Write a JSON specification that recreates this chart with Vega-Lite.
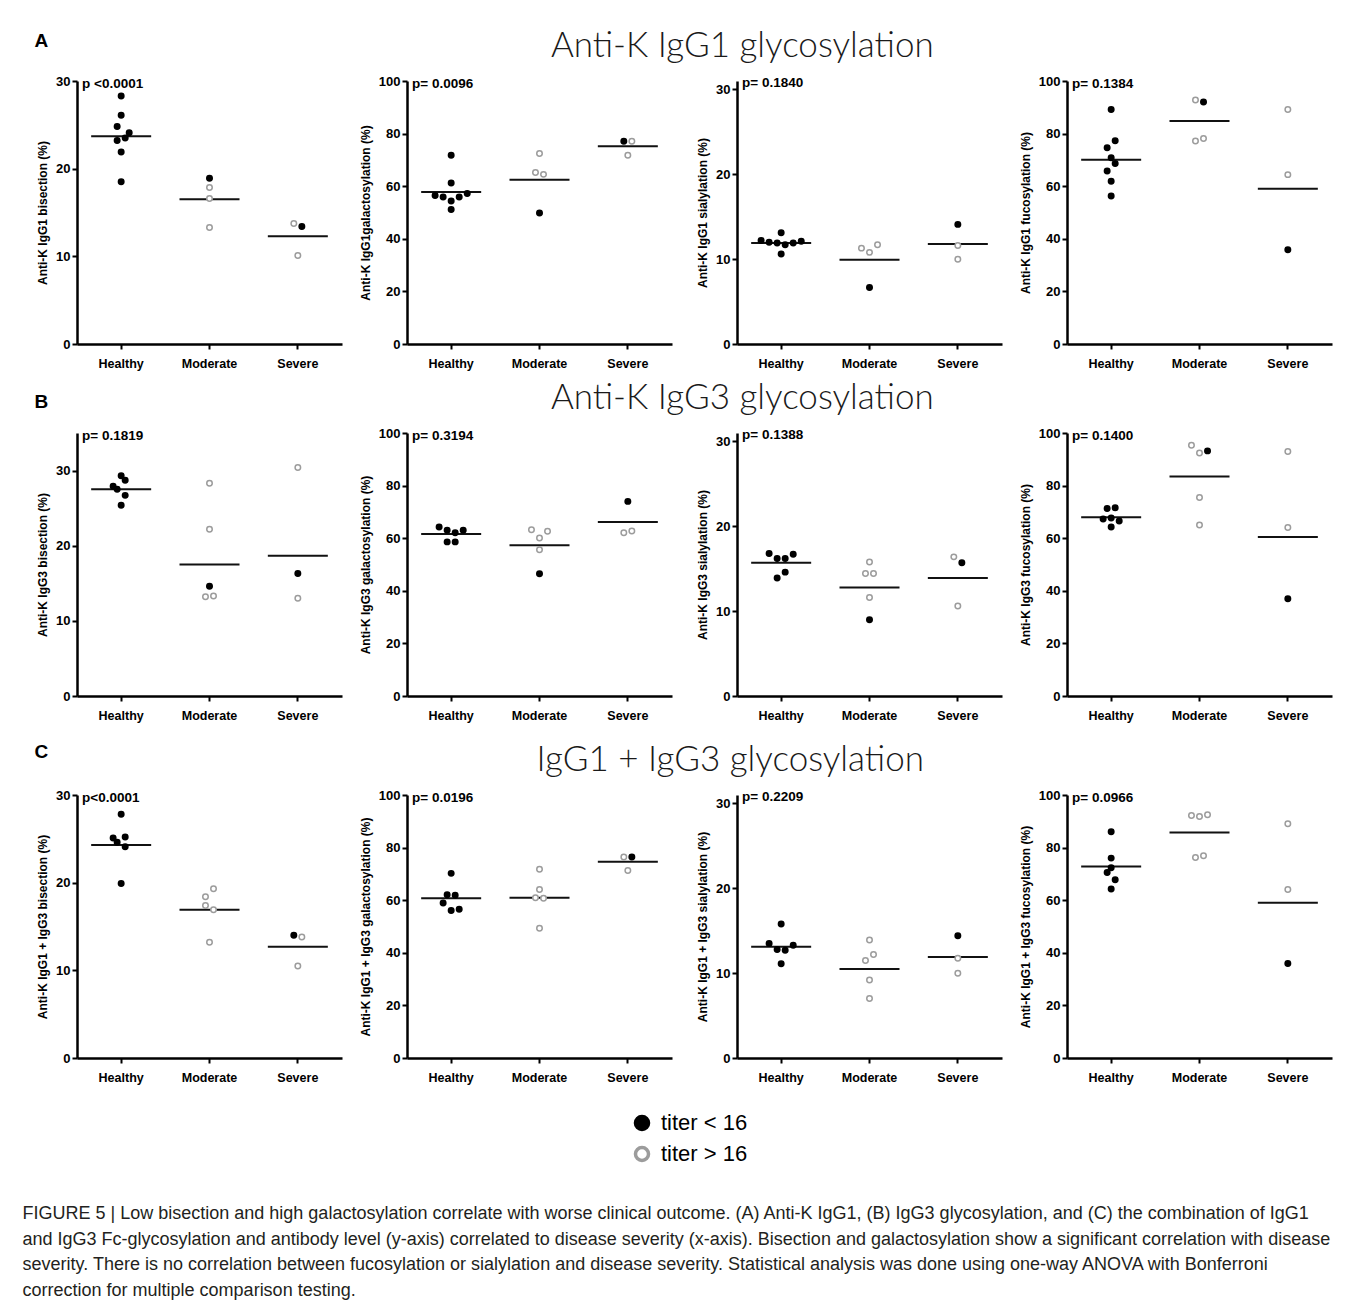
{
  "$schema": "https://vega.github.io/schema/vega-lite/v6.json",
  "padding": {"left": 22, "top": 29, "right": 8, "bottom": 4},
  "background": "white",
  "datasets": {
    "pts": [
      {"r":"A","m":"bis","g":"Healthy","v":28.3,"t":"titer < 16","s":0},
      {"r":"A","m":"bis","g":"Healthy","v":26.1,"t":"titer < 16","s":0},
      {"r":"A","m":"bis","g":"Healthy","v":24.8,"t":"titer < 16","s":-1},
      {"r":"A","m":"bis","g":"Healthy","v":24.1,"t":"titer < 16","s":2},
      {"r":"A","m":"bis","g":"Healthy","v":23.5,"t":"titer < 16","s":1},
      {"r":"A","m":"bis","g":"Healthy","v":23.2,"t":"titer < 16","s":-1},
      {"r":"A","m":"bis","g":"Healthy","v":21.9,"t":"titer < 16","s":0},
      {"r":"A","m":"bis","g":"Healthy","v":18.5,"t":"titer < 16","s":0},
      {"r":"A","m":"bis","g":"Moderate","v":18.9,"t":"titer < 16","s":0},
      {"r":"A","m":"bis","g":"Moderate","v":17.85,"t":"titer > 16","s":0},
      {"r":"A","m":"bis","g":"Moderate","v":16.6,"t":"titer > 16","s":0},
      {"r":"A","m":"bis","g":"Moderate","v":13.3,"t":"titer > 16","s":0},
      {"r":"A","m":"bis","g":"Severe","v":13.75,"t":"titer > 16","s":-1},
      {"r":"A","m":"bis","g":"Severe","v":13.4,"t":"titer < 16","s":1},
      {"r":"A","m":"bis","g":"Severe","v":10.1,"t":"titer > 16","s":0},

      {"r":"A","m":"gal","g":"Healthy","v":71.8,"t":"titer < 16","s":0},
      {"r":"A","m":"gal","g":"Healthy","v":61.2,"t":"titer < 16","s":0},
      {"r":"A","m":"gal","g":"Healthy","v":56.5,"t":"titer < 16","s":-4},
      {"r":"A","m":"gal","g":"Healthy","v":55.9,"t":"titer < 16","s":-2},
      {"r":"A","m":"gal","g":"Healthy","v":54.4,"t":"titer < 16","s":0},
      {"r":"A","m":"gal","g":"Healthy","v":55.9,"t":"titer < 16","s":2},
      {"r":"A","m":"gal","g":"Healthy","v":57.2,"t":"titer < 16","s":4},
      {"r":"A","m":"gal","g":"Healthy","v":51.1,"t":"titer < 16","s":0},
      {"r":"A","m":"gal","g":"Moderate","v":72.4,"t":"titer > 16","s":0},
      {"r":"A","m":"gal","g":"Moderate","v":65.2,"t":"titer > 16","s":-1},
      {"r":"A","m":"gal","g":"Moderate","v":64.5,"t":"titer > 16","s":1},
      {"r":"A","m":"gal","g":"Moderate","v":49.8,"t":"titer < 16","s":0},
      {"r":"A","m":"gal","g":"Severe","v":77.1,"t":"titer < 16","s":-1},
      {"r":"A","m":"gal","g":"Severe","v":77.1,"t":"titer > 16","s":1},
      {"r":"A","m":"gal","g":"Severe","v":71.8,"t":"titer > 16","s":0},

      {"r":"A","m":"sia","g":"Healthy","v":13.1,"t":"titer < 16","s":0},
      {"r":"A","m":"sia","g":"Healthy","v":12.2,"t":"titer < 16","s":-5},
      {"r":"A","m":"sia","g":"Healthy","v":12.0,"t":"titer < 16","s":-3},
      {"r":"A","m":"sia","g":"Healthy","v":11.9,"t":"titer < 16","s":-1},
      {"r":"A","m":"sia","g":"Healthy","v":11.7,"t":"titer < 16","s":1},
      {"r":"A","m":"sia","g":"Healthy","v":11.9,"t":"titer < 16","s":3},
      {"r":"A","m":"sia","g":"Healthy","v":12.1,"t":"titer < 16","s":5},
      {"r":"A","m":"sia","g":"Healthy","v":10.6,"t":"titer < 16","s":0},
      {"r":"A","m":"sia","g":"Moderate","v":11.3,"t":"titer > 16","s":-2},
      {"r":"A","m":"sia","g":"Moderate","v":10.8,"t":"titer > 16","s":0},
      {"r":"A","m":"sia","g":"Moderate","v":11.7,"t":"titer > 16","s":2},
      {"r":"A","m":"sia","g":"Moderate","v":6.65,"t":"titer < 16","s":0},
      {"r":"A","m":"sia","g":"Severe","v":14.1,"t":"titer < 16","s":0},
      {"r":"A","m":"sia","g":"Severe","v":11.6,"t":"titer > 16","s":0},
      {"r":"A","m":"sia","g":"Severe","v":10.0,"t":"titer > 16","s":0},

      {"r":"A","m":"fuc","g":"Healthy","v":89.2,"t":"titer < 16","s":0},
      {"r":"A","m":"fuc","g":"Healthy","v":77.3,"t":"titer < 16","s":1},
      {"r":"A","m":"fuc","g":"Healthy","v":74.6,"t":"titer < 16","s":-1},
      {"r":"A","m":"fuc","g":"Healthy","v":70.8,"t":"titer < 16","s":0},
      {"r":"A","m":"fuc","g":"Healthy","v":68.6,"t":"titer < 16","s":1},
      {"r":"A","m":"fuc","g":"Healthy","v":65.8,"t":"titer < 16","s":-1},
      {"r":"A","m":"fuc","g":"Healthy","v":61.9,"t":"titer < 16","s":0},
      {"r":"A","m":"fuc","g":"Healthy","v":56.3,"t":"titer < 16","s":0},
      {"r":"A","m":"fuc","g":"Moderate","v":92.8,"t":"titer > 16","s":-1},
      {"r":"A","m":"fuc","g":"Moderate","v":92.0,"t":"titer < 16","s":1},
      {"r":"A","m":"fuc","g":"Moderate","v":77.2,"t":"titer > 16","s":-1},
      {"r":"A","m":"fuc","g":"Moderate","v":78.1,"t":"titer > 16","s":1},
      {"r":"A","m":"fuc","g":"Severe","v":89.2,"t":"titer > 16","s":0},
      {"r":"A","m":"fuc","g":"Severe","v":64.4,"t":"titer > 16","s":0},
      {"r":"A","m":"fuc","g":"Severe","v":35.8,"t":"titer < 16","s":0},

      {"r":"B","m":"bis","g":"Healthy","v":29.3,"t":"titer < 16","s":0},
      {"r":"B","m":"bis","g":"Healthy","v":28.7,"t":"titer < 16","s":1},
      {"r":"B","m":"bis","g":"Healthy","v":27.9,"t":"titer < 16","s":-2},
      {"r":"B","m":"bis","g":"Healthy","v":27.5,"t":"titer < 16","s":-1},
      {"r":"B","m":"bis","g":"Healthy","v":26.7,"t":"titer < 16","s":1},
      {"r":"B","m":"bis","g":"Healthy","v":25.4,"t":"titer < 16","s":0},
      {"r":"B","m":"bis","g":"Moderate","v":28.3,"t":"titer > 16","s":0},
      {"r":"B","m":"bis","g":"Moderate","v":22.2,"t":"titer > 16","s":0},
      {"r":"B","m":"bis","g":"Moderate","v":14.6,"t":"titer < 16","s":0},
      {"r":"B","m":"bis","g":"Moderate","v":13.2,"t":"titer > 16","s":-1},
      {"r":"B","m":"bis","g":"Moderate","v":13.3,"t":"titer > 16","s":1},
      {"r":"B","m":"bis","g":"Severe","v":30.4,"t":"titer > 16","s":0},
      {"r":"B","m":"bis","g":"Severe","v":16.3,"t":"titer < 16","s":0},
      {"r":"B","m":"bis","g":"Severe","v":13.0,"t":"titer > 16","s":0},

      {"r":"B","m":"gal","g":"Healthy","v":64.3,"t":"titer < 16","s":-3},
      {"r":"B","m":"gal","g":"Healthy","v":63.0,"t":"titer < 16","s":-1},
      {"r":"B","m":"gal","g":"Healthy","v":62.1,"t":"titer < 16","s":1},
      {"r":"B","m":"gal","g":"Healthy","v":63.0,"t":"titer < 16","s":3},
      {"r":"B","m":"gal","g":"Healthy","v":58.6,"t":"titer < 16","s":-1},
      {"r":"B","m":"gal","g":"Healthy","v":58.6,"t":"titer < 16","s":1},
      {"r":"B","m":"gal","g":"Moderate","v":63.2,"t":"titer > 16","s":-2},
      {"r":"B","m":"gal","g":"Moderate","v":62.6,"t":"titer > 16","s":2},
      {"r":"B","m":"gal","g":"Moderate","v":60.1,"t":"titer > 16","s":0},
      {"r":"B","m":"gal","g":"Moderate","v":55.6,"t":"titer > 16","s":0},
      {"r":"B","m":"gal","g":"Moderate","v":46.5,"t":"titer < 16","s":0},
      {"r":"B","m":"gal","g":"Severe","v":74.0,"t":"titer < 16","s":0},
      {"r":"B","m":"gal","g":"Severe","v":62.1,"t":"titer > 16","s":-1},
      {"r":"B","m":"gal","g":"Severe","v":62.7,"t":"titer > 16","s":1},

      {"r":"B","m":"sia","g":"Healthy","v":16.8,"t":"titer < 16","s":-3},
      {"r":"B","m":"sia","g":"Healthy","v":16.2,"t":"titer < 16","s":-1},
      {"r":"B","m":"sia","g":"Healthy","v":16.2,"t":"titer < 16","s":1},
      {"r":"B","m":"sia","g":"Healthy","v":16.7,"t":"titer < 16","s":3},
      {"r":"B","m":"sia","g":"Healthy","v":14.6,"t":"titer < 16","s":1},
      {"r":"B","m":"sia","g":"Healthy","v":13.9,"t":"titer < 16","s":-1},
      {"r":"B","m":"sia","g":"Moderate","v":15.8,"t":"titer > 16","s":0},
      {"r":"B","m":"sia","g":"Moderate","v":14.45,"t":"titer > 16","s":-1},
      {"r":"B","m":"sia","g":"Moderate","v":14.45,"t":"titer > 16","s":1},
      {"r":"B","m":"sia","g":"Moderate","v":11.6,"t":"titer > 16","s":0},
      {"r":"B","m":"sia","g":"Moderate","v":9.0,"t":"titer < 16","s":0},
      {"r":"B","m":"sia","g":"Severe","v":16.4,"t":"titer > 16","s":-1},
      {"r":"B","m":"sia","g":"Severe","v":15.7,"t":"titer < 16","s":1},
      {"r":"B","m":"sia","g":"Severe","v":10.6,"t":"titer > 16","s":0},

      {"r":"B","m":"fuc","g":"Healthy","v":71.3,"t":"titer < 16","s":-1},
      {"r":"B","m":"fuc","g":"Healthy","v":71.6,"t":"titer < 16","s":1},
      {"r":"B","m":"fuc","g":"Healthy","v":67.3,"t":"titer < 16","s":-2},
      {"r":"B","m":"fuc","g":"Healthy","v":67.7,"t":"titer < 16","s":0},
      {"r":"B","m":"fuc","g":"Healthy","v":66.5,"t":"titer < 16","s":2},
      {"r":"B","m":"fuc","g":"Healthy","v":64.3,"t":"titer < 16","s":0},
      {"r":"B","m":"fuc","g":"Moderate","v":95.3,"t":"titer > 16","s":-2},
      {"r":"B","m":"fuc","g":"Moderate","v":92.4,"t":"titer > 16","s":0},
      {"r":"B","m":"fuc","g":"Moderate","v":93.2,"t":"titer < 16","s":2},
      {"r":"B","m":"fuc","g":"Moderate","v":75.5,"t":"titer > 16","s":0},
      {"r":"B","m":"fuc","g":"Moderate","v":65.0,"t":"titer > 16","s":0},
      {"r":"B","m":"fuc","g":"Severe","v":93.0,"t":"titer > 16","s":0},
      {"r":"B","m":"fuc","g":"Severe","v":64.1,"t":"titer > 16","s":0},
      {"r":"B","m":"fuc","g":"Severe","v":37.0,"t":"titer < 16","s":0},

      {"r":"C","m":"bis","g":"Healthy","v":27.8,"t":"titer < 16","s":0},
      {"r":"C","m":"bis","g":"Healthy","v":25.1,"t":"titer < 16","s":-2},
      {"r":"C","m":"bis","g":"Healthy","v":25.2,"t":"titer < 16","s":1},
      {"r":"C","m":"bis","g":"Healthy","v":24.6,"t":"titer < 16","s":-1},
      {"r":"C","m":"bis","g":"Healthy","v":24.1,"t":"titer < 16","s":1},
      {"r":"C","m":"bis","g":"Healthy","v":19.9,"t":"titer < 16","s":0},
      {"r":"C","m":"bis","g":"Moderate","v":19.3,"t":"titer > 16","s":1},
      {"r":"C","m":"bis","g":"Moderate","v":18.4,"t":"titer > 16","s":-1},
      {"r":"C","m":"bis","g":"Moderate","v":17.4,"t":"titer > 16","s":-1},
      {"r":"C","m":"bis","g":"Moderate","v":16.9,"t":"titer > 16","s":1},
      {"r":"C","m":"bis","g":"Moderate","v":13.2,"t":"titer > 16","s":0},
      {"r":"C","m":"bis","g":"Severe","v":14.0,"t":"titer < 16","s":-1},
      {"r":"C","m":"bis","g":"Severe","v":13.8,"t":"titer > 16","s":1},
      {"r":"C","m":"bis","g":"Severe","v":10.5,"t":"titer > 16","s":0},

      {"r":"C","m":"gal","g":"Healthy","v":70.2,"t":"titer < 16","s":0},
      {"r":"C","m":"gal","g":"Healthy","v":62.1,"t":"titer < 16","s":-1},
      {"r":"C","m":"gal","g":"Healthy","v":61.9,"t":"titer < 16","s":1},
      {"r":"C","m":"gal","g":"Healthy","v":58.9,"t":"titer < 16","s":-2},
      {"r":"C","m":"gal","g":"Healthy","v":56.1,"t":"titer < 16","s":0},
      {"r":"C","m":"gal","g":"Healthy","v":56.6,"t":"titer < 16","s":2},
      {"r":"C","m":"gal","g":"Moderate","v":71.8,"t":"titer > 16","s":0},
      {"r":"C","m":"gal","g":"Moderate","v":64.1,"t":"titer > 16","s":0},
      {"r":"C","m":"gal","g":"Moderate","v":60.9,"t":"titer > 16","s":-1},
      {"r":"C","m":"gal","g":"Moderate","v":60.7,"t":"titer > 16","s":1},
      {"r":"C","m":"gal","g":"Moderate","v":49.3,"t":"titer > 16","s":0},
      {"r":"C","m":"gal","g":"Severe","v":76.4,"t":"titer > 16","s":-1},
      {"r":"C","m":"gal","g":"Severe","v":76.4,"t":"titer < 16","s":1},
      {"r":"C","m":"gal","g":"Severe","v":71.3,"t":"titer > 16","s":0},

      {"r":"C","m":"sia","g":"Healthy","v":15.8,"t":"titer < 16","s":0},
      {"r":"C","m":"sia","g":"Healthy","v":13.5,"t":"titer < 16","s":-3},
      {"r":"C","m":"sia","g":"Healthy","v":12.8,"t":"titer < 16","s":-1},
      {"r":"C","m":"sia","g":"Healthy","v":12.7,"t":"titer < 16","s":1},
      {"r":"C","m":"sia","g":"Healthy","v":13.3,"t":"titer < 16","s":3},
      {"r":"C","m":"sia","g":"Healthy","v":11.1,"t":"titer < 16","s":0},
      {"r":"C","m":"sia","g":"Moderate","v":13.9,"t":"titer > 16","s":0},
      {"r":"C","m":"sia","g":"Moderate","v":12.2,"t":"titer > 16","s":1},
      {"r":"C","m":"sia","g":"Moderate","v":11.5,"t":"titer > 16","s":-1},
      {"r":"C","m":"sia","g":"Moderate","v":9.2,"t":"titer > 16","s":0},
      {"r":"C","m":"sia","g":"Moderate","v":7.0,"t":"titer > 16","s":0},
      {"r":"C","m":"sia","g":"Severe","v":14.4,"t":"titer < 16","s":0},
      {"r":"C","m":"sia","g":"Severe","v":11.75,"t":"titer > 16","s":0},
      {"r":"C","m":"sia","g":"Severe","v":10.0,"t":"titer > 16","s":0},

      {"r":"C","m":"fuc","g":"Healthy","v":86.0,"t":"titer < 16","s":0},
      {"r":"C","m":"fuc","g":"Healthy","v":76.0,"t":"titer < 16","s":0},
      {"r":"C","m":"fuc","g":"Healthy","v":72.3,"t":"titer < 16","s":0},
      {"r":"C","m":"fuc","g":"Healthy","v":70.5,"t":"titer < 16","s":-1},
      {"r":"C","m":"fuc","g":"Healthy","v":67.8,"t":"titer < 16","s":1},
      {"r":"C","m":"fuc","g":"Healthy","v":64.3,"t":"titer < 16","s":0},
      {"r":"C","m":"fuc","g":"Moderate","v":92.2,"t":"titer > 16","s":-2},
      {"r":"C","m":"fuc","g":"Moderate","v":91.8,"t":"titer > 16","s":0},
      {"r":"C","m":"fuc","g":"Moderate","v":92.5,"t":"titer > 16","s":2},
      {"r":"C","m":"fuc","g":"Moderate","v":76.2,"t":"titer > 16","s":-1},
      {"r":"C","m":"fuc","g":"Moderate","v":76.9,"t":"titer > 16","s":1},
      {"r":"C","m":"fuc","g":"Severe","v":89.1,"t":"titer > 16","s":0},
      {"r":"C","m":"fuc","g":"Severe","v":64.1,"t":"titer > 16","s":0},
      {"r":"C","m":"fuc","g":"Severe","v":35.9,"t":"titer < 16","s":0}
    ],
    "means": [
      {"r":"A","m":"bis","g":"Healthy","v":23.7},{"r":"A","m":"bis","g":"Moderate","v":16.5},{"r":"A","m":"bis","g":"Severe","v":12.3},
      {"r":"A","m":"gal","g":"Healthy","v":57.8},{"r":"A","m":"gal","g":"Moderate","v":62.5},{"r":"A","m":"gal","g":"Severe","v":75.2},
      {"r":"A","m":"sia","g":"Healthy","v":11.9},{"r":"A","m":"sia","g":"Moderate","v":9.93},{"r":"A","m":"sia","g":"Severe","v":11.8},
      {"r":"A","m":"fuc","g":"Healthy","v":70.1},{"r":"A","m":"fuc","g":"Moderate","v":84.8},{"r":"A","m":"fuc","g":"Severe","v":59.0},
      {"r":"B","m":"bis","g":"Healthy","v":27.5},{"r":"B","m":"bis","g":"Moderate","v":17.5},{"r":"B","m":"bis","g":"Severe","v":18.65},
      {"r":"B","m":"gal","g":"Healthy","v":61.6},{"r":"B","m":"gal","g":"Moderate","v":57.3},{"r":"B","m":"gal","g":"Severe","v":66.2},
      {"r":"B","m":"sia","g":"Healthy","v":15.7},{"r":"B","m":"sia","g":"Moderate","v":12.8},{"r":"B","m":"sia","g":"Severe","v":13.9},
      {"r":"B","m":"fuc","g":"Healthy","v":68.0},{"r":"B","m":"fuc","g":"Moderate","v":83.5},{"r":"B","m":"fuc","g":"Severe","v":60.5},
      {"r":"C","m":"bis","g":"Healthy","v":24.3},{"r":"C","m":"bis","g":"Moderate","v":16.9},{"r":"C","m":"bis","g":"Severe","v":12.7},
      {"r":"C","m":"gal","g":"Healthy","v":60.7},{"r":"C","m":"gal","g":"Moderate","v":60.9},{"r":"C","m":"gal","g":"Severe","v":74.6},
      {"r":"C","m":"sia","g":"Healthy","v":13.1},{"r":"C","m":"sia","g":"Moderate","v":10.5},{"r":"C","m":"sia","g":"Severe","v":11.9},
      {"r":"C","m":"fuc","g":"Healthy","v":72.8},{"r":"C","m":"fuc","g":"Moderate","v":85.7},{"r":"C","m":"fuc","g":"Severe","v":59.0}
    ]
  },
  "title": {
    "text": [
      "FIGURE 5 | Low bisection and high galactosylation correlate with worse clinical outcome. (A) Anti-K IgG1, (B) IgG3 glycosylation, and (C) the combination of IgG1",
      "and IgG3 Fc-glycosylation and antibody level (y-axis) correlated to disease severity (x-axis). Bisection and galactosylation show a significant correlation with disease",
      "severity. There is no correlation between fucosylation or sialylation and disease severity. Statistical analysis was done using one-way ANOVA with Bonferroni",
      "correction for multiple comparison testing."
    ],
    "orient": "bottom",
    "anchor": "start",
    "frame": "bounds",
    "fontSize": 18,
    "font": "Liberation Sans",
    "fontWeight": "normal",
    "lineHeight": 25.5,
    "color": "#231f20",
    "offset": 37,
    "dx": -12
  },
  "spacing": 11,
  "vconcat": [
    {
      "title": {"text": "A", "anchor": "start", "fontSize": 19, "font": "Liberation Sans", "fontWeight": "bold", "baseline": "top", "offset": -22, "dx": -2},
      "vconcat": [
        {
          "title": {"text": "Anti-K IgG1 glycosylation", "anchor": "middle", "fontSize": 35, "font": "Lato", "fontWeight": 300, "color": "#1a1a1a", "dx": 58, "offset": 11},
          "bounds": "flush",
          "spacing": 65,
          "hconcat": [
            {"width": 265, "height": 263, "layer": [
              {"data": {"name": "means"}, "transform": [{"filter": "datum.r == 'A' && datum.m == 'bis'"}],
               "mark": {"type": "tick", "orient": "horizontal", "size": 60, "thickness": 2, "color": "#111111", "opacity": 1},
               "encoding": {
                 "x": {"field": "g", "type": "nominal", "scale": {"domain": ["Healthy", "Moderate", "Severe"], "paddingInner": 0, "paddingOuter": 0}, "axis": {"title": null, "labelAngle": 0}},
                 "y": {"field": "v", "type": "quantitative", "scale": {"domain": [0, 30], "nice": false}, "axis": {"title": "Anti-K IgG1 bisection (%)", "values": [0, 10, 20, 30]}}}},
              {"data": {"name": "pts"}, "transform": [{"filter": "datum.r == 'A' && datum.m == 'bis'"}],
               "mark": {"type": "point", "size": 30, "strokeWidth": 1.5, "opacity": 1},
               "encoding": {
                 "x": {"field": "g", "type": "nominal"},
                 "xOffset": {"field": "s", "type": "quantitative", "scale": {"domain": [-11, 11]}},
                 "y": {"field": "v", "type": "quantitative"},
                 "fill": {"field": "t", "type": "nominal", "scale": {"domain": ["titer < 16", "titer > 16"], "range": ["#000000", "#ffffff"]}, "title": null},
                 "stroke": {"field": "t", "type": "nominal", "scale": {"domain": ["titer < 16", "titer > 16"], "range": ["#000000", "#9c9c9c"]}, "title": null}}},
              {"data": {"values": [{}]},
               "mark": {"type": "text", "align": "left", "baseline": "middle", "dx": 5, "dy": 3, "fontSize": 13.5, "fontWeight": "bold", "font": "Liberation Sans"},
               "encoding": {"x": {"datum": "Healthy", "type": "nominal", "bandPosition": 0}, "y": {"datum": 30, "type": "quantitative"}, "text": {"value": "p <0.0001"}}}
            ]},
            {"width": 265, "height": 263, "layer": [
              {"data": {"name": "means"}, "transform": [{"filter": "datum.r == 'A' && datum.m == 'gal'"}],
               "mark": {"type": "tick", "orient": "horizontal", "size": 60, "thickness": 2, "color": "#111111", "opacity": 1},
               "encoding": {
                 "x": {"field": "g", "type": "nominal", "scale": {"domain": ["Healthy", "Moderate", "Severe"], "paddingInner": 0, "paddingOuter": 0}, "axis": {"title": null, "labelAngle": 0}},
                 "y": {"field": "v", "type": "quantitative", "scale": {"domain": [0, 100], "nice": false}, "axis": {"title": "Anti-K IgG1galactosylation (%)", "values": [0, 20, 40, 60, 80, 100]}}}},
              {"data": {"name": "pts"}, "transform": [{"filter": "datum.r == 'A' && datum.m == 'gal'"}],
               "mark": {"type": "point", "size": 30, "strokeWidth": 1.5, "opacity": 1},
               "encoding": {
                 "x": {"field": "g", "type": "nominal"},
                 "xOffset": {"field": "s", "type": "quantitative", "scale": {"domain": [-11, 11]}},
                 "y": {"field": "v", "type": "quantitative"},
                 "fill": {"field": "t", "type": "nominal", "scale": {"domain": ["titer < 16", "titer > 16"], "range": ["#000000", "#ffffff"]}, "title": null},
                 "stroke": {"field": "t", "type": "nominal", "scale": {"domain": ["titer < 16", "titer > 16"], "range": ["#000000", "#9c9c9c"]}, "title": null}}},
              {"data": {"values": [{}]},
               "mark": {"type": "text", "align": "left", "baseline": "middle", "dx": 5, "dy": 3, "fontSize": 13.5, "fontWeight": "bold", "font": "Liberation Sans"},
               "encoding": {"x": {"datum": "Healthy", "type": "nominal", "bandPosition": 0}, "y": {"datum": 100, "type": "quantitative"}, "text": {"value": "p= 0.0096"}}}
            ]},
            {"width": 265, "height": 263, "layer": [
              {"data": {"name": "means"}, "transform": [{"filter": "datum.r == 'A' && datum.m == 'sia'"}],
               "mark": {"type": "tick", "orient": "horizontal", "size": 60, "thickness": 2, "color": "#111111", "opacity": 1},
               "encoding": {
                 "x": {"field": "g", "type": "nominal", "scale": {"domain": ["Healthy", "Moderate", "Severe"], "paddingInner": 0, "paddingOuter": 0}, "axis": {"title": null, "labelAngle": 0}},
                 "y": {"field": "v", "type": "quantitative", "scale": {"domain": [0, 31], "nice": false}, "axis": {"title": "Anti-K IgG1 sialylation (%)", "values": [0, 10, 20, 30]}}}},
              {"data": {"name": "pts"}, "transform": [{"filter": "datum.r == 'A' && datum.m == 'sia'"}],
               "mark": {"type": "point", "size": 30, "strokeWidth": 1.5, "opacity": 1},
               "encoding": {
                 "x": {"field": "g", "type": "nominal"},
                 "xOffset": {"field": "s", "type": "quantitative", "scale": {"domain": [-11, 11]}},
                 "y": {"field": "v", "type": "quantitative"},
                 "fill": {"field": "t", "type": "nominal", "scale": {"domain": ["titer < 16", "titer > 16"], "range": ["#000000", "#ffffff"]}, "title": null},
                 "stroke": {"field": "t", "type": "nominal", "scale": {"domain": ["titer < 16", "titer > 16"], "range": ["#000000", "#9c9c9c"]}, "title": null}}},
              {"data": {"values": [{}]},
               "mark": {"type": "text", "align": "left", "baseline": "middle", "dx": 5, "dy": 2, "fontSize": 13.5, "fontWeight": "bold", "font": "Liberation Sans"},
               "encoding": {"x": {"datum": "Healthy", "type": "nominal", "bandPosition": 0}, "y": {"datum": 31, "type": "quantitative"}, "text": {"value": "p= 0.1840"}}}
            ]},
            {"width": 265, "height": 263, "layer": [
              {"data": {"name": "means"}, "transform": [{"filter": "datum.r == 'A' && datum.m == 'fuc'"}],
               "mark": {"type": "tick", "orient": "horizontal", "size": 60, "thickness": 2, "color": "#111111", "opacity": 1},
               "encoding": {
                 "x": {"field": "g", "type": "nominal", "scale": {"domain": ["Healthy", "Moderate", "Severe"], "paddingInner": 0, "paddingOuter": 0}, "axis": {"title": null, "labelAngle": 0}},
                 "y": {"field": "v", "type": "quantitative", "scale": {"domain": [0, 100], "nice": false}, "axis": {"title": "Anti-K IgG1 fucosylation (%)", "values": [0, 20, 40, 60, 80, 100]}}}},
              {"data": {"name": "pts"}, "transform": [{"filter": "datum.r == 'A' && datum.m == 'fuc'"}],
               "mark": {"type": "point", "size": 30, "strokeWidth": 1.5, "opacity": 1},
               "encoding": {
                 "x": {"field": "g", "type": "nominal"},
                 "xOffset": {"field": "s", "type": "quantitative", "scale": {"domain": [-11, 11]}},
                 "y": {"field": "v", "type": "quantitative"},
                 "fill": {"field": "t", "type": "nominal", "scale": {"domain": ["titer < 16", "titer > 16"], "range": ["#000000", "#ffffff"]}, "title": null},
                 "stroke": {"field": "t", "type": "nominal", "scale": {"domain": ["titer < 16", "titer > 16"], "range": ["#000000", "#9c9c9c"]}, "title": null}}},
              {"data": {"values": [{}]},
               "mark": {"type": "text", "align": "left", "baseline": "middle", "dx": 5, "dy": 3, "fontSize": 13.5, "fontWeight": "bold", "font": "Liberation Sans"},
               "encoding": {"x": {"datum": "Healthy", "type": "nominal", "bandPosition": 0}, "y": {"datum": 100, "type": "quantitative"}, "text": {"value": "p= 0.1384"}}}
            ]}
          ]
        }
      ]
    },
    {
      "title": {"text": "B", "anchor": "start", "fontSize": 19, "font": "Liberation Sans", "fontWeight": "bold", "baseline": "top", "offset": -31, "dx": -2},
      "vconcat": [
        {
          "title": {"text": "Anti-K IgG3 glycosylation", "anchor": "middle", "fontSize": 35, "font": "Lato", "fontWeight": 300, "color": "#1a1a1a", "dx": 58, "offset": 11},
          "bounds": "flush",
          "spacing": 65,
          "hconcat": [
            {"width": 265, "height": 263, "layer": [
              {"data": {"name": "means"}, "transform": [{"filter": "datum.r == 'B' && datum.m == 'bis'"}],
               "mark": {"type": "tick", "orient": "horizontal", "size": 60, "thickness": 2, "color": "#111111", "opacity": 1},
               "encoding": {
                 "x": {"field": "g", "type": "nominal", "scale": {"domain": ["Healthy", "Moderate", "Severe"], "paddingInner": 0, "paddingOuter": 0}, "axis": {"title": " ", "titleFontSize": 8, "titlePadding": 2, "labelAngle": 0}},
                 "y": {"field": "v", "type": "quantitative", "scale": {"domain": [0, 35], "nice": false}, "axis": {"title": "Anti-K IgG3 bisection (%)", "values": [0, 10, 20, 30]}}}},
              {"data": {"name": "pts"}, "transform": [{"filter": "datum.r == 'B' && datum.m == 'bis'"}],
               "mark": {"type": "point", "size": 30, "strokeWidth": 1.5, "opacity": 1},
               "encoding": {
                 "x": {"field": "g", "type": "nominal"},
                 "xOffset": {"field": "s", "type": "quantitative", "scale": {"domain": [-11, 11]}},
                 "y": {"field": "v", "type": "quantitative"},
                 "fill": {"field": "t", "type": "nominal", "scale": {"domain": ["titer < 16", "titer > 16"], "range": ["#000000", "#ffffff"]}, "title": null},
                 "stroke": {"field": "t", "type": "nominal", "scale": {"domain": ["titer < 16", "titer > 16"], "range": ["#000000", "#9c9c9c"]}, "title": null}}},
              {"data": {"values": [{}]},
               "mark": {"type": "text", "align": "left", "baseline": "middle", "dx": 5, "dy": 3, "fontSize": 13.5, "fontWeight": "bold", "font": "Liberation Sans"},
               "encoding": {"x": {"datum": "Healthy", "type": "nominal", "bandPosition": 0}, "y": {"datum": 35, "type": "quantitative"}, "text": {"value": "p= 0.1819"}}}
            ]},
            {"width": 265, "height": 263, "layer": [
              {"data": {"name": "means"}, "transform": [{"filter": "datum.r == 'B' && datum.m == 'gal'"}],
               "mark": {"type": "tick", "orient": "horizontal", "size": 60, "thickness": 2, "color": "#111111", "opacity": 1},
               "encoding": {
                 "x": {"field": "g", "type": "nominal", "scale": {"domain": ["Healthy", "Moderate", "Severe"], "paddingInner": 0, "paddingOuter": 0}, "axis": {"title": " ", "titleFontSize": 8, "titlePadding": 2, "labelAngle": 0}},
                 "y": {"field": "v", "type": "quantitative", "scale": {"domain": [0, 100], "nice": false}, "axis": {"title": "Anti-K IgG3 galactosylation (%)", "values": [0, 20, 40, 60, 80, 100]}}}},
              {"data": {"name": "pts"}, "transform": [{"filter": "datum.r == 'B' && datum.m == 'gal'"}],
               "mark": {"type": "point", "size": 30, "strokeWidth": 1.5, "opacity": 1},
               "encoding": {
                 "x": {"field": "g", "type": "nominal"},
                 "xOffset": {"field": "s", "type": "quantitative", "scale": {"domain": [-11, 11]}},
                 "y": {"field": "v", "type": "quantitative"},
                 "fill": {"field": "t", "type": "nominal", "scale": {"domain": ["titer < 16", "titer > 16"], "range": ["#000000", "#ffffff"]}, "title": null},
                 "stroke": {"field": "t", "type": "nominal", "scale": {"domain": ["titer < 16", "titer > 16"], "range": ["#000000", "#9c9c9c"]}, "title": null}}},
              {"data": {"values": [{}]},
               "mark": {"type": "text", "align": "left", "baseline": "middle", "dx": 5, "dy": 3, "fontSize": 13.5, "fontWeight": "bold", "font": "Liberation Sans"},
               "encoding": {"x": {"datum": "Healthy", "type": "nominal", "bandPosition": 0}, "y": {"datum": 100, "type": "quantitative"}, "text": {"value": "p= 0.3194"}}}
            ]},
            {"width": 265, "height": 263, "layer": [
              {"data": {"name": "means"}, "transform": [{"filter": "datum.r == 'B' && datum.m == 'sia'"}],
               "mark": {"type": "tick", "orient": "horizontal", "size": 60, "thickness": 2, "color": "#111111", "opacity": 1},
               "encoding": {
                 "x": {"field": "g", "type": "nominal", "scale": {"domain": ["Healthy", "Moderate", "Severe"], "paddingInner": 0, "paddingOuter": 0}, "axis": {"title": " ", "titleFontSize": 8, "titlePadding": 2, "labelAngle": 0}},
                 "y": {"field": "v", "type": "quantitative", "scale": {"domain": [0, 31], "nice": false}, "axis": {"title": "Anti-K IgG3 sialylation (%)", "values": [0, 10, 20, 30]}}}},
              {"data": {"name": "pts"}, "transform": [{"filter": "datum.r == 'B' && datum.m == 'sia'"}],
               "mark": {"type": "point", "size": 30, "strokeWidth": 1.5, "opacity": 1},
               "encoding": {
                 "x": {"field": "g", "type": "nominal"},
                 "xOffset": {"field": "s", "type": "quantitative", "scale": {"domain": [-11, 11]}},
                 "y": {"field": "v", "type": "quantitative"},
                 "fill": {"field": "t", "type": "nominal", "scale": {"domain": ["titer < 16", "titer > 16"], "range": ["#000000", "#ffffff"]}, "title": null},
                 "stroke": {"field": "t", "type": "nominal", "scale": {"domain": ["titer < 16", "titer > 16"], "range": ["#000000", "#9c9c9c"]}, "title": null}}},
              {"data": {"values": [{}]},
               "mark": {"type": "text", "align": "left", "baseline": "middle", "dx": 5, "dy": 2, "fontSize": 13.5, "fontWeight": "bold", "font": "Liberation Sans"},
               "encoding": {"x": {"datum": "Healthy", "type": "nominal", "bandPosition": 0}, "y": {"datum": 31, "type": "quantitative"}, "text": {"value": "p= 0.1388"}}}
            ]},
            {"width": 265, "height": 263, "layer": [
              {"data": {"name": "means"}, "transform": [{"filter": "datum.r == 'B' && datum.m == 'fuc'"}],
               "mark": {"type": "tick", "orient": "horizontal", "size": 60, "thickness": 2, "color": "#111111", "opacity": 1},
               "encoding": {
                 "x": {"field": "g", "type": "nominal", "scale": {"domain": ["Healthy", "Moderate", "Severe"], "paddingInner": 0, "paddingOuter": 0}, "axis": {"title": " ", "titleFontSize": 8, "titlePadding": 2, "labelAngle": 0}},
                 "y": {"field": "v", "type": "quantitative", "scale": {"domain": [0, 100], "nice": false}, "axis": {"title": "Anti-K IgG3 fucosylation (%)", "values": [0, 20, 40, 60, 80, 100]}}}},
              {"data": {"name": "pts"}, "transform": [{"filter": "datum.r == 'B' && datum.m == 'fuc'"}],
               "mark": {"type": "point", "size": 30, "strokeWidth": 1.5, "opacity": 1},
               "encoding": {
                 "x": {"field": "g", "type": "nominal"},
                 "xOffset": {"field": "s", "type": "quantitative", "scale": {"domain": [-11, 11]}},
                 "y": {"field": "v", "type": "quantitative"},
                 "fill": {"field": "t", "type": "nominal", "scale": {"domain": ["titer < 16", "titer > 16"], "range": ["#000000", "#ffffff"]}, "title": null},
                 "stroke": {"field": "t", "type": "nominal", "scale": {"domain": ["titer < 16", "titer > 16"], "range": ["#000000", "#9c9c9c"]}, "title": null}}},
              {"data": {"values": [{}]},
               "mark": {"type": "text", "align": "left", "baseline": "middle", "dx": 5, "dy": 3, "fontSize": 13.5, "fontWeight": "bold", "font": "Liberation Sans"},
               "encoding": {"x": {"datum": "Healthy", "type": "nominal", "bandPosition": 0}, "y": {"datum": 100, "type": "quantitative"}, "text": {"value": "p= 0.1400"}}}
            ]}
          ]
        }
      ]
    },
    {
      "title": {"text": "C", "anchor": "start", "fontSize": 19, "font": "Liberation Sans", "fontWeight": "bold", "baseline": "top", "offset": -19, "dx": -2},
      "vconcat": [
        {
          "title": {"text": "IgG1 + IgG3 glycosylation", "anchor": "middle", "fontSize": 35, "font": "Lato", "fontWeight": 300, "color": "#1a1a1a", "dx": 46, "offset": 11},
          "bounds": "flush",
          "spacing": 65,
          "hconcat": [
            {"width": 265, "height": 263, "layer": [
              {"data": {"name": "means"}, "transform": [{"filter": "datum.r == 'C' && datum.m == 'bis'"}],
               "mark": {"type": "tick", "orient": "horizontal", "size": 60, "thickness": 2, "color": "#111111", "opacity": 1},
               "encoding": {
                 "x": {"field": "g", "type": "nominal", "scale": {"domain": ["Healthy", "Moderate", "Severe"], "paddingInner": 0, "paddingOuter": 0}, "axis": {"title": null, "labelAngle": 0}},
                 "y": {"field": "v", "type": "quantitative", "scale": {"domain": [0, 30], "nice": false}, "axis": {"title": "Anti-K IgG1 + IgG3 bisection (%)", "values": [0, 10, 20, 30]}}}},
              {"data": {"name": "pts"}, "transform": [{"filter": "datum.r == 'C' && datum.m == 'bis'"}],
               "mark": {"type": "point", "size": 30, "strokeWidth": 1.5, "opacity": 1},
               "encoding": {
                 "x": {"field": "g", "type": "nominal"},
                 "xOffset": {"field": "s", "type": "quantitative", "scale": {"domain": [-11, 11]}},
                 "y": {"field": "v", "type": "quantitative"},
                 "fill": {"field": "t", "type": "nominal", "scale": {"domain": ["titer < 16", "titer > 16"], "range": ["#000000", "#ffffff"]}, "title": null},
                 "stroke": {"field": "t", "type": "nominal", "scale": {"domain": ["titer < 16", "titer > 16"], "range": ["#000000", "#9c9c9c"]}, "title": null}}},
              {"data": {"values": [{}]},
               "mark": {"type": "text", "align": "left", "baseline": "middle", "dx": 5, "dy": 3, "fontSize": 13.5, "fontWeight": "bold", "font": "Liberation Sans"},
               "encoding": {"x": {"datum": "Healthy", "type": "nominal", "bandPosition": 0}, "y": {"datum": 30, "type": "quantitative"}, "text": {"value": "p<0.0001"}}}
            ]},
            {"width": 265, "height": 263, "layer": [
              {"data": {"name": "means"}, "transform": [{"filter": "datum.r == 'C' && datum.m == 'gal'"}],
               "mark": {"type": "tick", "orient": "horizontal", "size": 60, "thickness": 2, "color": "#111111", "opacity": 1},
               "encoding": {
                 "x": {"field": "g", "type": "nominal", "scale": {"domain": ["Healthy", "Moderate", "Severe"], "paddingInner": 0, "paddingOuter": 0}, "axis": {"title": null, "labelAngle": 0}},
                 "y": {"field": "v", "type": "quantitative", "scale": {"domain": [0, 100], "nice": false}, "axis": {"title": "Anti-K IgG1 + IgG3 galactosylation (%)", "values": [0, 20, 40, 60, 80, 100]}}}},
              {"data": {"name": "pts"}, "transform": [{"filter": "datum.r == 'C' && datum.m == 'gal'"}],
               "mark": {"type": "point", "size": 30, "strokeWidth": 1.5, "opacity": 1},
               "encoding": {
                 "x": {"field": "g", "type": "nominal"},
                 "xOffset": {"field": "s", "type": "quantitative", "scale": {"domain": [-11, 11]}},
                 "y": {"field": "v", "type": "quantitative"},
                 "fill": {"field": "t", "type": "nominal", "scale": {"domain": ["titer < 16", "titer > 16"], "range": ["#000000", "#ffffff"]}, "title": null},
                 "stroke": {"field": "t", "type": "nominal", "scale": {"domain": ["titer < 16", "titer > 16"], "range": ["#000000", "#9c9c9c"]}, "title": null}}},
              {"data": {"values": [{}]},
               "mark": {"type": "text", "align": "left", "baseline": "middle", "dx": 5, "dy": 3, "fontSize": 13.5, "fontWeight": "bold", "font": "Liberation Sans"},
               "encoding": {"x": {"datum": "Healthy", "type": "nominal", "bandPosition": 0}, "y": {"datum": 100, "type": "quantitative"}, "text": {"value": "p= 0.0196"}}}
            ]},
            {"width": 265, "height": 263, "layer": [
              {"data": {"name": "means"}, "transform": [{"filter": "datum.r == 'C' && datum.m == 'sia'"}],
               "mark": {"type": "tick", "orient": "horizontal", "size": 60, "thickness": 2, "color": "#111111", "opacity": 1},
               "encoding": {
                 "x": {"field": "g", "type": "nominal", "scale": {"domain": ["Healthy", "Moderate", "Severe"], "paddingInner": 0, "paddingOuter": 0}, "axis": {"title": null, "labelAngle": 0}},
                 "y": {"field": "v", "type": "quantitative", "scale": {"domain": [0, 31], "nice": false}, "axis": {"title": "Anti-K IgG1 + IgG3 sialylation (%)", "values": [0, 10, 20, 30]}}}},
              {"data": {"name": "pts"}, "transform": [{"filter": "datum.r == 'C' && datum.m == 'sia'"}],
               "mark": {"type": "point", "size": 30, "strokeWidth": 1.5, "opacity": 1},
               "encoding": {
                 "x": {"field": "g", "type": "nominal"},
                 "xOffset": {"field": "s", "type": "quantitative", "scale": {"domain": [-11, 11]}},
                 "y": {"field": "v", "type": "quantitative"},
                 "fill": {"field": "t", "type": "nominal", "scale": {"domain": ["titer < 16", "titer > 16"], "range": ["#000000", "#ffffff"]}, "title": null},
                 "stroke": {"field": "t", "type": "nominal", "scale": {"domain": ["titer < 16", "titer > 16"], "range": ["#000000", "#9c9c9c"]}, "title": null}}},
              {"data": {"values": [{}]},
               "mark": {"type": "text", "align": "left", "baseline": "middle", "dx": 5, "dy": 2, "fontSize": 13.5, "fontWeight": "bold", "font": "Liberation Sans"},
               "encoding": {"x": {"datum": "Healthy", "type": "nominal", "bandPosition": 0}, "y": {"datum": 31, "type": "quantitative"}, "text": {"value": "p= 0.2209"}}}
            ]},
            {"width": 265, "height": 263, "layer": [
              {"data": {"name": "means"}, "transform": [{"filter": "datum.r == 'C' && datum.m == 'fuc'"}],
               "mark": {"type": "tick", "orient": "horizontal", "size": 60, "thickness": 2, "color": "#111111", "opacity": 1},
               "encoding": {
                 "x": {"field": "g", "type": "nominal", "scale": {"domain": ["Healthy", "Moderate", "Severe"], "paddingInner": 0, "paddingOuter": 0}, "axis": {"title": null, "labelAngle": 0}},
                 "y": {"field": "v", "type": "quantitative", "scale": {"domain": [0, 100], "nice": false}, "axis": {"title": "Anti-K IgG1 + IgG3 fucosylation (%)", "values": [0, 20, 40, 60, 80, 100]}}}},
              {"data": {"name": "pts"}, "transform": [{"filter": "datum.r == 'C' && datum.m == 'fuc'"}],
               "mark": {"type": "point", "size": 30, "strokeWidth": 1.5, "opacity": 1},
               "encoding": {
                 "x": {"field": "g", "type": "nominal"},
                 "xOffset": {"field": "s", "type": "quantitative", "scale": {"domain": [-11, 11]}},
                 "y": {"field": "v", "type": "quantitative"},
                 "fill": {"field": "t", "type": "nominal", "scale": {"domain": ["titer < 16", "titer > 16"], "range": ["#000000", "#ffffff"]}, "title": null},
                 "stroke": {"field": "t", "type": "nominal", "scale": {"domain": ["titer < 16", "titer > 16"], "range": ["#000000", "#9c9c9c"]}, "title": null}}},
              {"data": {"values": [{}]},
               "mark": {"type": "text", "align": "left", "baseline": "middle", "dx": 5, "dy": 3, "fontSize": 13.5, "fontWeight": "bold", "font": "Liberation Sans"},
               "encoding": {"x": {"datum": "Healthy", "type": "nominal", "bandPosition": 0}, "y": {"datum": 100, "type": "quantitative"}, "text": {"value": "p= 0.0966"}}}
            ]}
          ]
        }
      ]
    }
  ],
  "config": {
    "view": {"stroke": null},
    "font": "Liberation Sans",
    "axis": {
      "grid": false,
      "domainColor": "#000000",
      "domainWidth": 2.5,
      "tickColor": "#000000",
      "tickWidth": 2,
      "tickSize": 5,
      "labelColor": "#000000",
      "labelFont": "Liberation Sans",
      "labelFontWeight": "bold",
      "titleFont": "Liberation Sans",
      "titleFontWeight": "bold",
      "titleColor": "#000000"
    },
    "axisX": {"labelFontSize": 12.5, "labelPadding": 8},
    "axisY": {"labelFontSize": 13, "labelPadding": 2, "titleFontSize": 12, "titlePadding": 6},
    "legend": {
      "orient": "none",
      "legendX": 554,
      "legendY": 1031,
      "labelFontSize": 22,
      "labelFont": "Liberation Sans",
      "labelColor": "#000000",
      "symbolType": "circle",
      "symbolSize": 170,
      "symbolStrokeWidth": 3.5,
      "symbolOpacity": 1,
      "rowPadding": 3,
      "labelOffset": 8
    }
  }
}
